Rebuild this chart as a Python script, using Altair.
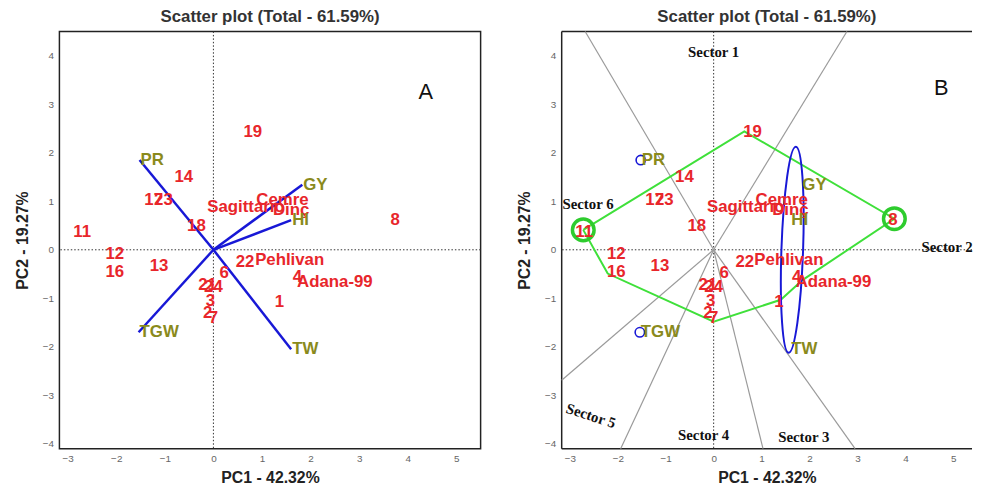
import altair as alt
import pandas as pd

# ---------------- data ----------------
geno_names = ["19", "14", "17", "23", "18", "11", "8", "Sagittario", "Cemre", "Dinç",
              "12", "16", "13", "22", "Pehlivan", "6", "4", "Adana-99", "21", "24",
              "1", "3", "2", "7"]
geno_x = [0.81, -0.61, -1.23, -1.03, -0.35, -2.70, 3.74, 0.67, 1.42, 1.60,
          -2.03, -2.03, -1.12, 0.65, 1.57, 0.22, 1.73, 2.50, -0.12, 0.00,
          1.36, -0.06, -0.12, 0.00]
geno_y = [2.43, 1.50, 1.03, 1.03, 0.49, 0.37, 0.61, 0.89, 1.03, 0.81,
          -0.08, -0.45, -0.34, -0.26, -0.22, -0.49, -0.57, -0.67, -0.73, -0.77,
          -1.08, -1.05, -1.30, -1.40]

trait_names = ["PR", "GY", "HI", "TGW", "TW"]
trait_x = [-1.52, 1.83, 1.60, -1.54, 1.60]
trait_y = [1.85, 1.34, 0.61, -1.70, -2.05]

poly_names = ["11", "19", "8", "4", "1", "7", "16", "11"]
poly_x = [-2.72, 0.64, 3.77, 1.86, 1.40, 0.00, -2.21, -2.72]
poly_y = [0.41, 2.44, 0.64, -0.62, -1.03, -1.48, -0.49, 0.41]

ray_x = [-2.68, 2.78, 2.95, 1.03, -1.94, -3.17]
ray_y = [4.50, 4.50, -4.10, -4.10, -4.10, -2.69]

sector_names = ["Sector 1", "Sector 2", "Sector 3", "Sector 4", "Sector 5", "Sector 6"]
sector_x = [0.00, 4.87, 1.88, -0.21, -2.56, -2.62]
sector_y = [4.08, 0.06, -3.85, -3.81, -3.42, 0.94]
sector_angle = [0, 0, 0, 0, 18, 0]

panel_letters = ["A", "B"]
panel_letter_x = [4.37, 4.75]
panel_letter_y = [3.25, 3.34]

circled_traits = ["PR", "TGW"]
circled_genos = ["11", "8"]
ellipse_x = [1.64]
ellipse_y = [0.0]

origin = [0.0]

X_DOMAIN_A = [-3.17, 5.5]
X_DOMAIN_B = [-3.17, 5.39]
Y_DOMAIN = [-4.10, 4.50]
X_TICKS = [-3, -2, -1, 0, 1, 2, 3, 4, 5]
Y_TICKS = [-4, -3, -2, -1, 0, 1, 2, 3, 4]

# ---------------- tables ----------------
geno = pd.DataFrame({"name": geno_names, "x": geno_x, "y": geno_y})
trait = pd.DataFrame({"name": trait_names, "x": trait_x, "y": trait_y,
                      "x0": origin * len(trait_names), "y0": origin * len(trait_names)})
poly = pd.DataFrame({"name": poly_names, "x": poly_x, "y": poly_y,
                     "order": list(range(len(poly_names)))})
rays = pd.DataFrame({"x": ray_x, "y": ray_y,
                     "x0": origin * len(ray_x), "y0": origin * len(ray_x)})
sectors = pd.DataFrame({"name": sector_names, "x": sector_x, "y": sector_y, "a": sector_angle})
letters = pd.DataFrame({"name": panel_letters, "x": panel_letter_x, "y": panel_letter_y})
zero = pd.DataFrame({"z": origin})
trait_circ = trait[trait["name"].isin(circled_traits)]
poly_circ = poly[poly["name"].isin(circled_genos)].drop_duplicates("name")
ell = pd.DataFrame({"x": ellipse_x, "y": ellipse_y})
# frame of panel B (its right side is cut off by the page edge)
frame_v = pd.DataFrame({"x": [X_DOMAIN_B[0]]})
frame_h = pd.DataFrame({"y": Y_DOMAIN})

FONT = "Liberation Sans"
RED = "#E8262B"
OLIVE = "#8A8A1C"
BLUE = "#1818D6"
GREEN = "#3FE03A"

ys = alt.Scale(domain=Y_DOMAIN, nice=False, zero=False)
x_axis = alt.Axis(values=X_TICKS, title="PC1 - 42.32%", grid=False, ticks=False, domain=False,
                  labelColor="#666", labelFontSize=10, labelPadding=5, labelFont=FONT,
                  titleFont=FONT, titleFontSize=16, titleFontWeight="bold", titleColor="#222",
                  titlePadding=6)
y_axis = alt.Axis(values=Y_TICKS, title="PC2 - 19.27%", grid=False, ticks=False, domain=False,
                  labelColor="#666", labelFontSize=10, labelPadding=6, labelFont=FONT,
                  titleFont=FONT, titleFontSize=16, titleFontWeight="bold", titleColor="#222",
                  titlePadding=12)

title = alt.TitleParams("Scatter plot (Total - 61.59%)", font=FONT, fontSize=17,
                        fontWeight="bold", color="#333", anchor="middle", offset=5)


def panel_layers(xdom):
    xs = alt.Scale(domain=xdom, nice=False, zero=False)

    def X(f):
        return alt.X(f, type="quantitative", scale=xs, axis=x_axis)

    def Y(f):
        return alt.Y(f, type="quantitative", scale=ys, axis=y_axis)

    L = {}
    L["zero_v"] = alt.Chart(zero).mark_rule(color="#333", strokeWidth=1, strokeDash=[1.5, 2]).encode(x=X("z"))
    L["zero_h"] = alt.Chart(zero).mark_rule(color="#333", strokeWidth=1, strokeDash=[1.5, 2]).encode(y=Y("z"))
    L["frame_v"] = alt.Chart(frame_v).mark_rule(color="#222", strokeWidth=1.5).encode(x=X("x"))
    L["frame_h"] = alt.Chart(frame_h).mark_rule(color="#222", strokeWidth=1.5).encode(y=Y("y"))
    L["geno"] = alt.Chart(geno).mark_text(font=FONT, fontSize=17, fontWeight="bold", color=RED,
                                          align="center", baseline="middle").encode(
        x=X("x"), y=Y("y"), text="name:N")
    L["trait"] = alt.Chart(trait).mark_text(font=FONT, fontSize=17, fontWeight="bold", color=OLIVE,
                                            align="left", baseline="middle", dx=1).encode(
        x=X("x"), y=Y("y"), text="name:N")
    L["letter_A"] = alt.Chart(letters[letters["name"] == "A"]).mark_text(
        font=FONT, fontSize=22, color="#111").encode(x=X("x"), y=Y("y"), text="name:N")
    L["letter_B"] = alt.Chart(letters[letters["name"] == "B"]).mark_text(
        font=FONT, fontSize=22, color="#111").encode(x=X("x"), y=Y("y"), text="name:N")
    L["vectors"] = alt.Chart(trait).mark_rule(color=BLUE, strokeWidth=2.5).encode(
        x=X("x0"), y=Y("y0"), x2="x:Q", y2="y:Q")
    L["rays"] = alt.Chart(rays).mark_rule(color="#9a9a9a", strokeWidth=1.2).encode(
        x=X("x0"), y=Y("y0"), x2="x:Q", y2="y:Q")
    L["poly"] = alt.Chart(poly).mark_line(color=GREEN, strokeWidth=2).encode(
        x=X("x"), y=Y("y"), order="order:Q")
    ELLIPSE = "M0,-1 A0.105,1 0 1,1 0,1 A0.105,1 0 1,1 0,-1 Z"
    L["ellipse"] = alt.Chart(ell).mark_point(shape=ELLIPSE, filled=False, stroke=BLUE, strokeWidth=2,
                                             size=43500, angle=2, opacity=1).encode(x=X("x"), y=Y("y"))
    L["green_circ"] = alt.Chart(poly_circ).mark_point(shape="circle", filled=False, stroke="#2ECC2E",
                                                      strokeWidth=3.5, size=480, opacity=1).encode(
        x=X("x"), y=Y("y"))
    L["blue_circ"] = alt.Chart(trait_circ).mark_point(shape="circle", filled=False, stroke=BLUE,
                                                      strokeWidth=1.6, size=90, opacity=1).encode(
        x=X("x"), y=Y("y"))
    L["sectors"] = alt.Chart(sectors).mark_text(font="Liberation Serif", fontSize=15, fontWeight="bold",
                                                color="#111", align="center", baseline="middle").encode(
        x=X("x"), y=Y("y"), text="name:N", angle=alt.Angle("a:Q", scale=None))
    return L


A = panel_layers(X_DOMAIN_A)
B = panel_layers(X_DOMAIN_B)

left = alt.layer(A["zero_v"], A["zero_h"], A["vectors"], A["geno"], A["trait"],
                 A["letter_A"]).properties(width=426, height=422, title=title)

right = alt.layer(B["zero_v"], B["zero_h"], B["frame_v"], B["frame_h"], B["rays"], B["poly"],
                  B["ellipse"], B["green_circ"], B["blue_circ"], B["geno"], B["trait"],
                  B["sectors"], B["letter_B"]).properties(
    width=415, height=422, title=title, view=alt.ViewBackground(strokeOpacity=0))

chart = alt.hconcat(left, right, spacing=34).configure_view(
    stroke="#222", strokeWidth=1.5).properties(
    padding={"left": 5, "top": -4, "right": 0, "bottom": -3}, background="white")

chart.save("out.html", embed_options={"renderer": "svg", "actions": False})
